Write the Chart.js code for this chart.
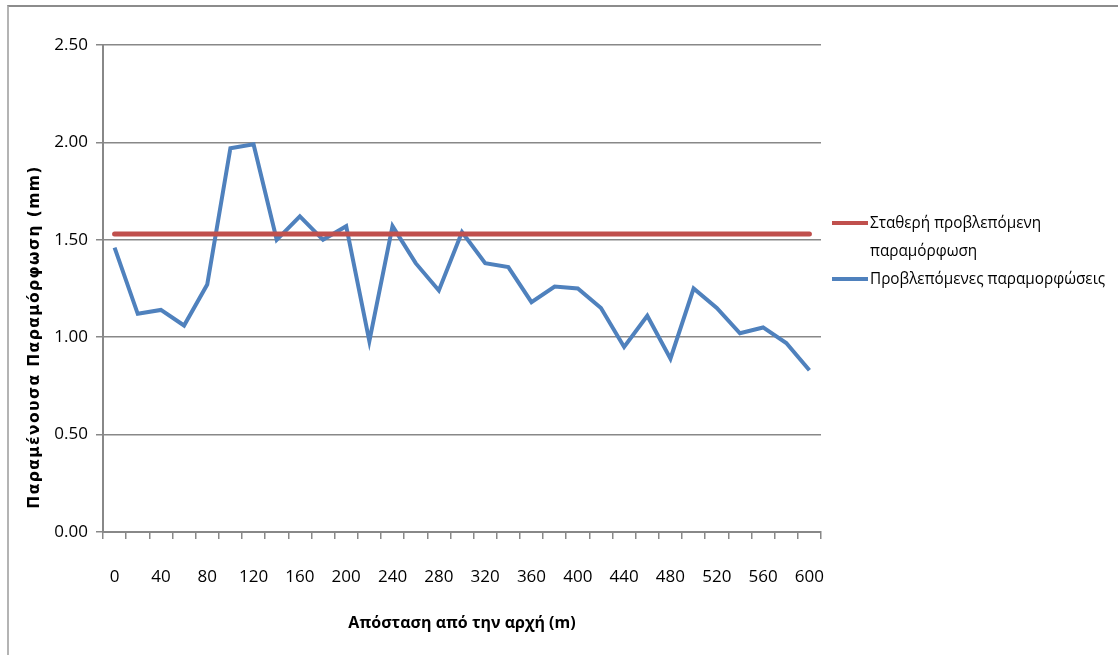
<!DOCTYPE html>
<html>
<head>
<meta charset="utf-8">
<script src="https://cdn.jsdelivr.net/npm/chart.js@4"></script>
<style>
  body { margin: 0; background: #fff; }
  #wrap { position: relative; width: 1118px; height: 655px; overflow: hidden; }
  #frame { position: absolute; left: 7px; top: 5px; width: 1120px; height: 660px;
           border-top: 2px solid #8c8c8c; border-left: 2px solid #b4b4b4; }
  #ytitle { position: absolute; left: 34px; top: 337px; transform: translate(-50%, -50%) rotate(-90deg);
            white-space: nowrap; font: bold 15.5px "DejaVu Sans", sans-serif; letter-spacing: 1.4px; color: #000; }
  #legend { position: absolute; left: 832px; top: 208px; font: 17px "Open Sans", sans-serif; color: #000; }
  .item { display: flex; align-items: flex-start; line-height: 28px; }
  .swatch { width: 36px; height: 4px; margin-top: 13px; margin-right: 2px; flex: none; }
  .text { width: 270px; transform: scaleX(0.9); transform-origin: left top; }
</style>
</head>
<body>
<div id="wrap">
  <div id="frame"></div>
  <canvas id="chart" width="1118" height="655"></canvas>
  <div id="ytitle">Παραμένουσα Παραμόρφωση  (mm)</div>
  <div id="legend"></div>
</div>
<script>
// απόσταση από την αρχή σε m, ανά 20 m
const distances = [0, 20, 40, 60, 80, 100, 120, 140, 160, 180, 200, 220, 240, 260, 280, 300,
                   320, 340, 360, 380, 400, 420, 440, 460, 480, 500, 520, 540, 560, 580, 600];
const constantValue = 1.53;
const predicted = [1.46, 1.12, 1.14, 1.06, 1.27, 1.97, 1.99, 1.50, 1.62, 1.50, 1.57, 0.98, 1.57, 1.38, 1.24, 1.54,
                   1.38, 1.36, 1.18, 1.26, 1.25, 1.15, 0.95, 1.11, 0.89, 1.25, 1.15, 1.02, 1.05, 0.97, 0.83];
const seriesNames = ['Σταθερή προβλεπόμενη παραμόρφωση', 'Προβλεπόμενες παραμορφώσεις'];
const seriesColors = ['#C0504D', '#4F81BD'];

const tickFont = { family: '"Open Sans", sans-serif', size: 17 };
const gridColor = '#888888';

const ctx = document.getElementById('chart');

new Chart(ctx, {
    type: 'line',
    data: {
        labels: distances,
        datasets: [{
            label: seriesNames[0],
            data: distances.map(() => constantValue),
            borderColor: seriesColors[0],
            borderWidth: 5,
            borderCapStyle: 'round',
            pointRadius: 0,
            tension: 0
        }, {
            label: seriesNames[1],
            data: predicted,
            borderColor: seriesColors[1],
            borderWidth: 4,
            pointRadius: 0,
            tension: 0
        }]
    },
    options: {
        responsive: false,
        animation: false,
        layout: {
            padding: { top: 45, right: 297, left: 0, bottom: 0 }
        },
        plugins: {
            legend: { display: false },
            tooltip: { enabled: false }
        },
        scales: {
            x: {
                type: 'category',
                offset: true,
                grid: {
                    offset: true,
                    drawOnChartArea: false,
                    drawTicks: true,
                    tickLength: 7,
                    color: gridColor,
                    lineWidth: 1.5
                },
                border: { color: gridColor, width: 2 },
                ticks: {
                    autoSkip: false,
                    maxRotation: 0,
                    padding: 28,
                    color: '#000',
                    font: tickFont,
                    callback: (v, i) => (i % 2 === 0 ? distances[i] : '')
                },
                title: {
                    display: true,
                    text: 'Απόσταση από την αρχή (m)',
                    color: '#000',
                    font: { family: '"Open Sans", sans-serif', size: 16, weight: 'bold' },
                    padding: { top: 0, bottom: 22 }
                },
                afterFit: (scale) => { scale.height = 123; }
            },
            y: {
                min: 0,
                max: 2.5,
                grid: {
                    color: gridColor,
                    lineWidth: 1.5,
                    tickLength: 7
                },
                border: { color: gridColor, width: 2 },
                ticks: {
                    stepSize: 0.5,
                    padding: 8,
                    color: '#000',
                    font: tickFont,
                    callback: (v) => v.toFixed(2)
                },
                afterFit: (scale) => { scale.width = 103; }
            }
        }
    }
});

// υπόμνημα δεξιά του γραφήματος
const legend = document.getElementById('legend');
seriesNames.forEach((name, i) => {
    const item = document.createElement('div');
    item.className = 'item';
    const sw = document.createElement('div');
    sw.className = 'swatch';
    sw.style.background = seriesColors[i];
    const tx = document.createElement('div');
    tx.className = 'text';
    // η πρώτη ετικέτα σπάει σε δύο γραμμές
    if (i === 0) {
        const parts = name.split(' ');
        tx.innerHTML = parts.slice(0, 2).join(' ') + '<br>' + parts.slice(2).join(' ');
    } else {
        tx.textContent = name;
    }
    item.appendChild(sw);
    item.appendChild(tx);
    legend.appendChild(item);
});
</script>
</body>
</html>
